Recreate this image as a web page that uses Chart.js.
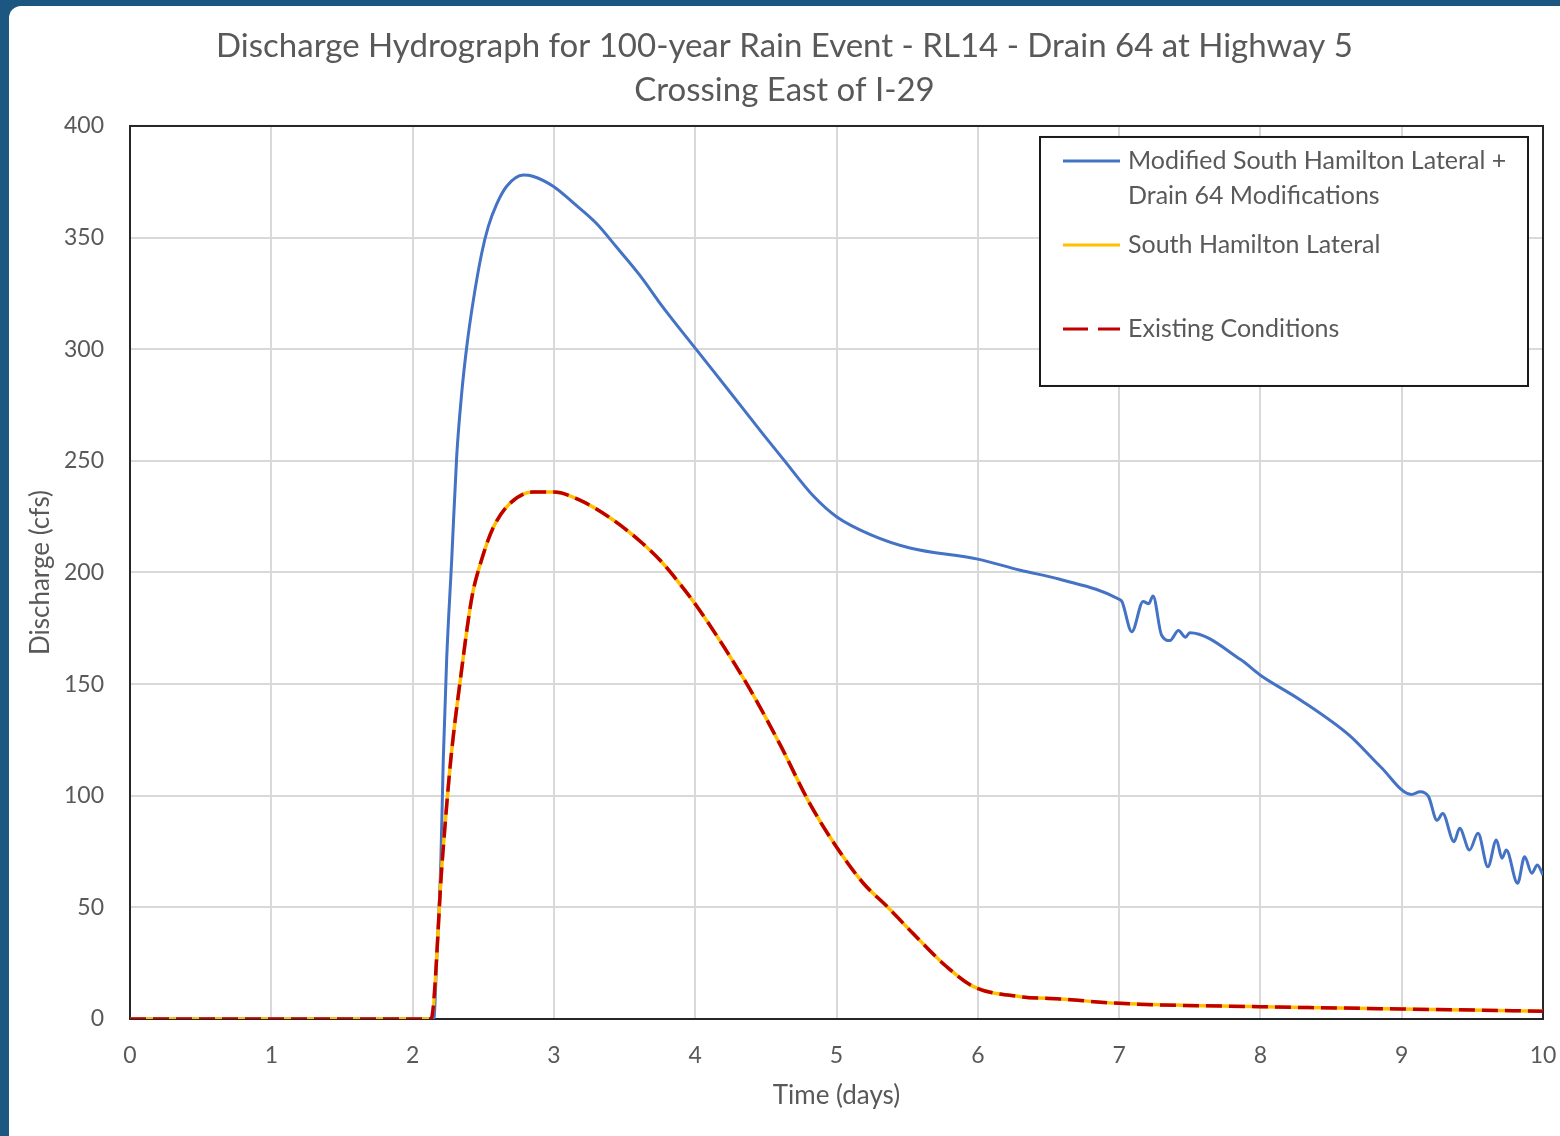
<!DOCTYPE html>
<html>
<head>
<meta charset="utf-8">
<script src="https://cdn.jsdelivr.net/npm/chart.js@4/dist/chart.umd.min.js"></script>
<style>
  html, body { margin: 0; padding: 0; }
  body { width: 1560px; height: 1136px; background: #1b5780; position: relative; overflow: hidden; }
  #panel { position: absolute; left: 9px; top: 6px; width: 1551px; height: 1130px; background: #fff; border-top-left-radius: 12px; }
</style>
</head>
<body>
<div id="panel"><canvas id="myChart"></canvas></div>
<script>
// Modified South Hamilton Lateral + Drain 64 Modifications
var modTime = [0, 2.1, 2.15, 2.17, 2.2, 2.217, 2.241, 2.277, 2.312, 2.347, 2.383, 2.43, 2.489, 2.536, 2.595, 2.666, 2.783, 2.85, 3.0, 3.14, 3.3, 3.44, 3.61, 3.77, 4.01, 4.25, 4.48, 4.62, 4.84, 5.0, 5.24, 5.52, 6.0, 6.3, 6.58, 7.0, 7.02, 7.09, 7.17, 7.21, 7.24, 7.3, 7.36, 7.42, 7.47, 7.5, 7.86, 8.0, 8.28, 8.63, 8.85, 9.07, 9.13, 9.19, 9.25, 9.29, 9.37, 9.41, 9.48, 9.54, 9.61, 9.67, 9.71, 9.74, 9.82, 9.87, 9.92, 9.96, 10];
var modQ = [0, 0, 0, 26, 71, 116, 161, 206, 252, 280, 301, 322, 343, 355, 365, 373, 378, 377.5, 372.8, 365.4, 356.4, 346, 333, 319, 299.7, 280.5, 262, 251, 234, 225, 217, 211, 206, 201, 197, 188, 187, 173.5, 187, 186, 189.5, 172, 169.5, 174, 171, 173, 161, 154, 143, 127, 113, 100.6, 101.8, 99.6, 89, 92, 79.4, 85.4, 75.7, 83.2, 68.2, 80.2, 72, 75.7, 60.8, 72.7, 65.3, 69, 64.5];

// South Hamilton Lateral and Existing Conditions (same curve)
var baseTime = [0, 2.1, 2.13, 2.21, 2.27, 2.34, 2.42, 2.49, 2.57, 2.69, 2.85, 3.0, 3.18, 3.42, 3.61, 3.75, 3.89, 4.01, 4.2, 4.39, 4.6, 4.81, 5.0, 5.19, 5.36, 5.54, 5.78, 5.97, 6.3, 6.58, 7.0, 8.0, 9.0, 10];
var hamiltonQ = [0, 0, 0, 71, 116, 153, 189, 206, 220, 231, 236, 236, 232.5, 223.5, 214, 205.6, 195, 185, 167, 147.4, 123, 96.6, 77, 60.8, 50.3, 38.4, 23.4, 14.5, 10, 9, 7, 5.5, 4.5, 3.5];
var existingQ = [0, 0, 0, 71, 116, 153, 189, 206, 220, 231, 236, 236, 232.5, 223.5, 214, 205.6, 195, 185, 167, 147.4, 123, 96.6, 77, 60.8, 50.3, 38.4, 23.4, 14.5, 10, 9, 7, 5.5, 4.5, 3.5];

var seriesNames = ["Modified South Hamilton Lateral +|Drain 64 Modifications", "South Hamilton Lateral", "Existing Conditions"];
var xTicks = [0, 1, 2, 3, 4, 5, 6, 7, 8, 9, 10];
var yTicks = [0, 50, 100, 150, 200, 250, 300, 350, 400];

function pts(xs, ys) {
  return xs.map(function (x, i) { return { x: x, y: ys[i] }; });
}

var grey = '#595959';
var fontName = 'Lato, "Open Sans", sans-serif';

// plot frame and legend box drawn like the Excel chart
var framePlugin = {
  id: 'frame',
  beforeDatasetsDraw: function (chart) {
    var a = chart.chartArea, ctx = chart.ctx;
    ctx.save();
    ctx.strokeStyle = '#262626';
    ctx.lineWidth = 2;
    ctx.strokeRect(a.left, a.top, a.right - a.left, a.bottom - a.top);
    ctx.restore();
  },
  afterDraw: function (chart) {
    var a = chart.chartArea, ctx = chart.ctx;
    var bx = a.right - 503, by = a.top + 11, bw = 488, bh = 249;
    ctx.save();
    ctx.fillStyle = '#fff';
    ctx.fillRect(bx, by, bw, bh);
    ctx.strokeStyle = '#1a1a1a';
    ctx.lineWidth = 2;
    ctx.strokeRect(bx, by, bw, bh);
    var rows = [24, 108, 192];
    ctx.font = '25px ' + fontName;
    ctx.textBaseline = 'middle';
    chart.data.datasets.forEach(function (ds, i) {
      var y = by + rows[i];
      ctx.beginPath();
      ctx.strokeStyle = ds.borderColor;
      ctx.lineWidth = 3;
      ctx.setLineDash(i === 2 ? [25, 10] : []);
      ctx.moveTo(bx + 23, y);
      ctx.lineTo(bx + 80, y);
      ctx.stroke();
      ctx.setLineDash([]);
      ctx.fillStyle = grey;
      seriesNames[i].split('|').forEach(function (t, k) {
        ctx.fillText(t, bx + 88, y + k * 35);
      });
    });
    ctx.restore();
  }
};

var ctx = document.getElementById('myChart');
var myChart = new Chart(ctx, {
  type: 'line',
  data: {
    datasets: [
      {
        label: seriesNames[0],
        data: pts(modTime, modQ),
        borderColor: '#4472c4',
        borderWidth: 3,
        order: 2
      },
      {
        label: seriesNames[1],
        data: pts(baseTime, hamiltonQ),
        borderColor: '#ffc000',
        borderWidth: 3.5,
        order: 1
      },
      {
        label: seriesNames[2],
        data: pts(baseTime, existingQ),
        borderColor: '#c00000',
        borderWidth: 3.5,
        borderDash: [16, 7],
        order: 0
      }
    ]
  },
  plugins: [framePlugin],
  options: {
    responsive: true,
    maintainAspectRatio: false,
    animation: false,
    parsing: false,
    elements: {
      point: { radius: 0 },
      line: { cubicInterpolationMode: 'monotone', fill: false }
    },
    layout: { padding: 0 },
    plugins: {
      legend: { display: false },
      tooltip: { enabled: false },
      title: {
        display: true,
        text: ['Discharge Hydrograph for 100-year Rain Event - RL14 - Drain 64 at Highway 5', 'Crossing East of I-29'],
        color: grey,
        font: { family: fontName, size: 33, weight: 'normal', lineHeight: 1.333 },
        padding: { top: 18, bottom: 14 }
      }
    },
    scales: {
      x: {
        type: 'linear',
        min: 0,
        max: 10,
        afterBuildTicks: function (s) { s.ticks = xTicks.map(function (v) { return { value: v }; }); },
        afterFit: function (s) { s.height = 117; s.paddingLeft = 0; s.paddingRight = 17; },
        grid: { color: '#d9d9d9', lineWidth: 2, drawTicks: false },
        border: { display: false },
        ticks: { color: grey, padding: 23, font: { family: fontName, size: 23 } },
        title: {
          display: true,
          text: 'Time (days)',
          color: grey,
          font: { family: fontName, size: 26 },
          padding: { top: 0, bottom: 25 }
        }
      },
      y: {
        min: 0,
        max: 400,
        afterBuildTicks: function (s) { s.ticks = yTicks.map(function (v) { return { value: v }; }); },
        afterFit: function (s) { s.width = 121; s.paddingTop = 0; s.paddingBottom = 0; },
        grid: { color: '#d9d9d9', lineWidth: 2, drawTicks: false },
        border: { display: false },
        ticks: { color: grey, padding: 26, font: { family: fontName, size: 23 } },
        title: {
          display: true,
          text: 'Discharge (cfs)',
          color: grey,
          font: { family: fontName, size: 26 },
          padding: { top: 16, bottom: 0 }
        }
      }
    }
  }
});
</script>
</body>
</html>
